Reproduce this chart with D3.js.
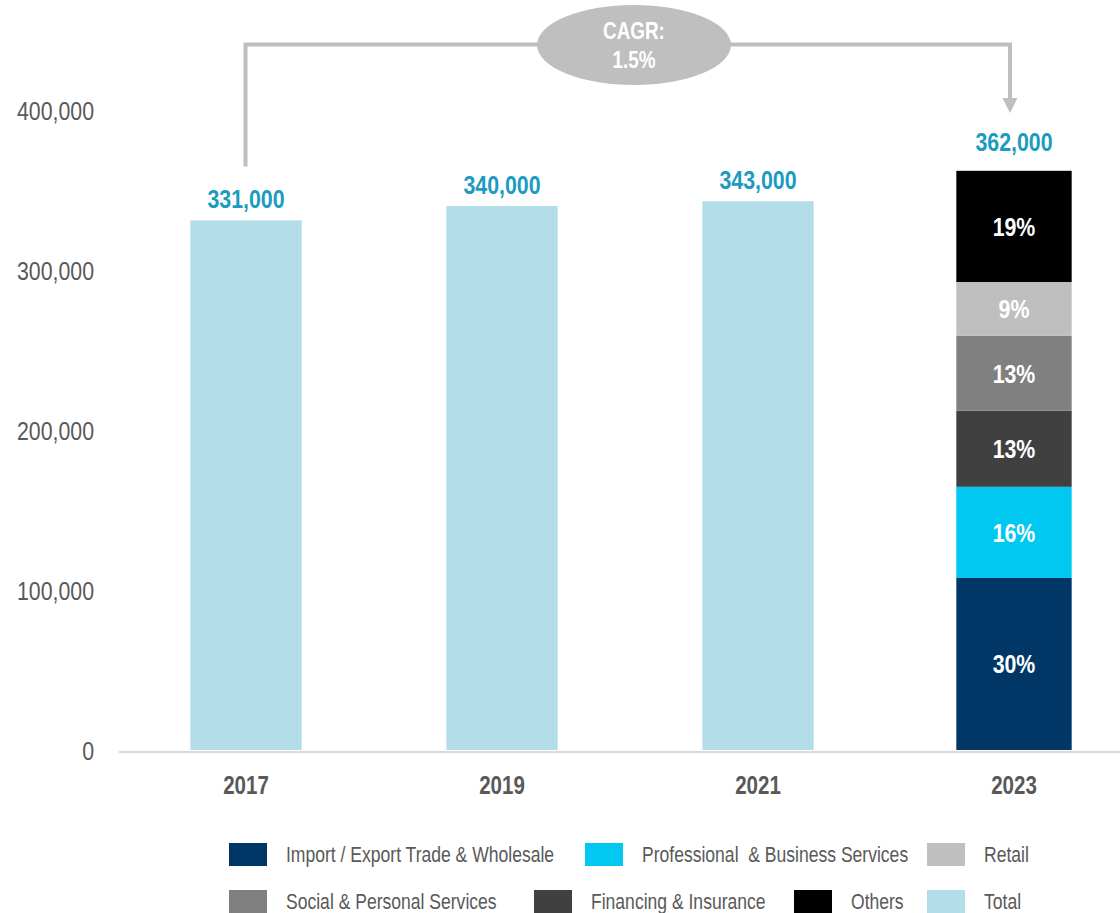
<!DOCTYPE html>
<html>
<head>
<meta charset="utf-8">
<script src="https://cdn.jsdelivr.net/npm/d3@7"></script>
<style>
  html, body { margin: 0; padding: 0; background: #ffffff; }
  svg { display: block; }
  text { font-family: "Liberation Sans Narrow", "Arial Narrow", "Liberation Sans", Arial, sans-serif; }
</style>
</head>
<body>
<svg id="chart" width="1120" height="913"></svg>
<script>
// Years on the x axis
const years = ["2017", "2019", "2021", "2023"];
// Total employment per year (single bars)
const totals = [331000, 340000, 343000, 362000];
// Sector breakdown for 2023, stacked bottom to top
const sectors = [
  "Import / Export Trade & Wholesale",
  "Professional  & Business Services",
  "Financing & Insurance",
  "Social & Personal Services",
  "Retail",
  "Others"
];
const sectorValues2023 = [107500, 57000, 47500, 47000, 33500, 69500];
// Y axis ticks
const yTicks = [0, 100000, 200000, 300000, 400000];
// Legend entries in display order (two rows)
const legendRow1 = ["Import / Export Trade & Wholesale", "Professional  & Business Services", "Retail"];
const legendRow2 = ["Social & Personal Services", "Financing & Insurance", "Others", "Total"];

const colors = {
  "Import / Export Trade & Wholesale": "#003767",
  "Professional  & Business Services": "#00c8f0",
  "Financing & Insurance": "#404040",
  "Social & Personal Services": "#808080",
  "Retail": "#bfbfbf",
  "Others": "#000000",
  "Total": "#b3dde9"
};
const valueColor = "#1b9bc0";
const axisTextColor = "#595959";

const svg = d3.select("#chart");

const x = d3.scaleBand()
  .domain(years)
  .range([118, 1142])
  .paddingInner(0.565)
  .paddingOuter(0.2825);

const y = d3.scaleLinear()
  .domain([0, 400000])
  .range([750, 110]);

// Y axis labels
const yAxis = d3.axisLeft(y)
  .tickValues(yTicks)
  .tickFormat(d3.format(","))
  .tickSize(0)
  .tickPadding(0);
const gy = svg.append("g")
  .attr("transform", "translate(94,0)")
  .call(yAxis);
gy.select(".domain").remove();
gy.selectAll("text")
  .attr("fill", axisTextColor)
  .style("font-size", "26px")
  .attr("dy", "0.35em");

// Baseline
svg.append("line")
  .attr("x1", 119).attr("x2", 1120)
  .attr("y1", y(0) + 2).attr("y2", y(0) + 2)
  .attr("stroke", "#d9d9d9")
  .attr("stroke-width", 2);

// X axis labels
const xAxis = d3.axisBottom(x).tickSize(0).tickPadding(0);
const gx = svg.append("g")
  .attr("transform", `translate(0,${y(0)})`)
  .call(xAxis);
gx.select(".domain").remove();
gx.selectAll("text")
  .attr("fill", axisTextColor)
  .attr("y", 44)
  .attr("dy", 0)
  .style("font-size", "25px")
  .style("font-weight", "bold");

// Total bars (all years except the one broken down by sector)
const totalData = years.map((yr, i) => ({ year: yr, value: totals[i] }))
  .filter(d => d.year !== "2023");

svg.append("g").selectAll("rect")
  .data(totalData)
  .join("rect")
  .attr("x", d => x(d.year))
  .attr("width", x.bandwidth())
  .attr("y", d => y(d.value))
  .attr("height", d => y(0) - y(d.value))
  .attr("fill", colors["Total"]);

// Stacked sector bar for 2023
const stackRow = {};
sectors.forEach((s, i) => { stackRow[s] = sectorValues2023[i]; });
const stacked = d3.stack().keys(sectors)([stackRow]);
const stackTotal = d3.sum(sectorValues2023);
const sx = x("2023") - 2;
const sw = x.bandwidth() + 4;

const seg = svg.append("g").selectAll("g")
  .data(stacked)
  .join("g");
seg.append("rect")
  .attr("x", sx)
  .attr("width", sw)
  .attr("y", d => y(d[0][1]))
  .attr("height", d => y(d[0][0]) - y(d[0][1]))
  .attr("fill", d => colors[d.key]);
seg.append("text")
  .attr("x", sx + sw / 2)
  .attr("y", d => (y(d[0][0]) + y(d[0][1])) / 2)
  .attr("dy", "0.36em")
  .attr("text-anchor", "middle")
  .attr("fill", "#ffffff")
  .style("font-size", "26px")
  .style("font-weight", "bold")
  .text(d => Math.round((d[0][1] - d[0][0]) / stackTotal * 100) + "%");

// Value labels above each bar
svg.append("g").selectAll("text")
  .data(years.map((yr, i) => ({ year: yr, value: totals[i] })))
  .join("text")
  .attr("x", d => x(d.year) + x.bandwidth() / 2)
  .attr("y", d => y(d.value) - (d.year === "2023" ? 20 : 12))
  .attr("text-anchor", "middle")
  .attr("fill", valueColor)
  .style("font-size", "26px")
  .style("font-weight", "bold")
  .text(d => d3.format(",")(d.value));

// CAGR bracket from first to last year
const firstYear = years[0], lastYear = years[years.length - 1];
const cagr = Math.pow(totals[totals.length - 1] / totals[0], 1 / (+lastYear - +firstYear)) - 1;
const bx1 = x(firstYear) + x.bandwidth() / 2 - 0.5;
const bx2 = x(lastYear) + x.bandwidth() / 2 - 4;
const by = 44.5;
const bracketColor = "#bfbfbf";

svg.append("path")
  .attr("d", `M${bx1},${y(totals[0]) - 54} V${by} H${bx2} V${99}`)
  .attr("fill", "none")
  .attr("stroke", bracketColor)
  .attr("stroke-width", 4);
svg.append("path")
  .attr("d", `M${bx2 - 7.5},${98} L${bx2 + 7.5},${98} L${bx2},${113} Z`)
  .attr("fill", bracketColor);

const cx = 634;
svg.append("ellipse")
  .attr("cx", cx).attr("cy", 45)
  .attr("rx", 97).attr("ry", 40)
  .attr("fill", bracketColor);
svg.append("text")
  .attr("x", cx).attr("y", 39)
  .attr("text-anchor", "middle")
  .attr("fill", "#ffffff")
  .style("font-size", "23px")
  .style("font-weight", "bold")
  .text("CAGR:");
svg.append("text")
  .attr("x", cx).attr("y", 68)
  .attr("text-anchor", "middle")
  .attr("fill", "#ffffff")
  .style("font-size", "23px")
  .style("font-weight", "bold")
  .text(d3.format(".1%")(cagr));

// Legend
const legendX1 = [229, 585, 927];
const legendX2 = [229, 534, 794, 927];
function drawLegendRow(items, xs, top) {
  const g = svg.append("g");
  items.forEach((name, i) => {
    g.append("rect")
      .attr("x", xs[i]).attr("y", top)
      .attr("width", 38).attr("height", 23)
      .attr("fill", colors[name]);
    g.append("text")
      .attr("x", xs[i] + 57).attr("y", top + 19)
      .attr("fill", axisTextColor)
      .style("font-size", "21.4px")
      .style("white-space", "pre")
      .text(name);
  });
}
drawLegendRow(legendRow1, legendX1, 843);
drawLegendRow(legendRow2, legendX2, 890);

// Condense all labels horizontally to a narrow face when none is installed
const narrowFactor = 0.82;
svg.selectAll("text").each(function () {
  const len = this.getComputedTextLength();
  d3.select(this)
    .attr("textLength", len * narrowFactor)
    .attr("lengthAdjust", "spacingAndGlyphs");
});
</script>
</body>
</html>
